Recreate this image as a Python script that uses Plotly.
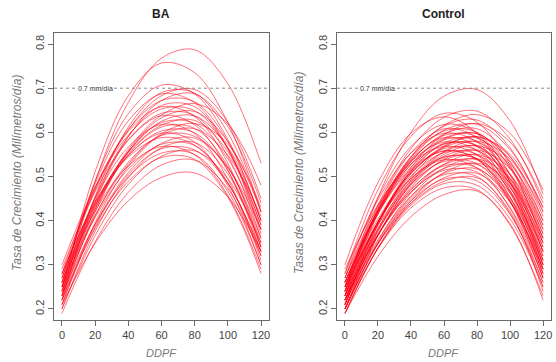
import plotly.graph_objects as go

DDPF = [0, 20, 40, 60, 80, 100, 120]

BA_CURVES = [
    [0.230, 0.489, 0.668, 0.768, 0.787, 0.710, 0.530],
    [0.240, 0.511, 0.683, 0.757, 0.735, 0.622, 0.420],
    [0.250, 0.490, 0.642, 0.707, 0.687, 0.584, 0.400],
    [0.220, 0.455, 0.612, 0.690, 0.689, 0.599, 0.420],
    [0.270, 0.469, 0.606, 0.683, 0.697, 0.623, 0.450],
    [0.260, 0.484, 0.626, 0.687, 0.667, 0.564, 0.380],
    [0.230, 0.443, 0.590, 0.672, 0.687, 0.613, 0.440],
    [0.280, 0.476, 0.606, 0.672, 0.669, 0.579, 0.400],
    [0.250, 0.432, 0.561, 0.639, 0.665, 0.619, 0.480],
    [0.240, 0.451, 0.591, 0.661, 0.658, 0.562, 0.370],
    [0.270, 0.473, 0.602, 0.658, 0.636, 0.530, 0.340],
    [0.220, 0.419, 0.556, 0.633, 0.647, 0.579, 0.420],
    [0.290, 0.466, 0.584, 0.643, 0.638, 0.546, 0.360],
    [0.260, 0.436, 0.557, 0.625, 0.637, 0.566, 0.400],
    [0.250, 0.453, 0.582, 0.638, 0.617, 0.514, 0.330],
    [0.230, 0.426, 0.556, 0.622, 0.620, 0.540, 0.380],
    [0.280, 0.442, 0.554, 0.616, 0.627, 0.556, 0.390],
    [0.240, 0.426, 0.550, 0.612, 0.609, 0.523, 0.350],
    [0.260, 0.448, 0.567, 0.618, 0.597, 0.494, 0.310],
    [0.270, 0.437, 0.547, 0.603, 0.599, 0.513, 0.340],
    [0.210, 0.395, 0.523, 0.594, 0.608, 0.548, 0.410],
    [0.250, 0.432, 0.548, 0.598, 0.578, 0.479, 0.300],
    [0.230, 0.411, 0.532, 0.593, 0.591, 0.521, 0.380],
    [0.280, 0.442, 0.544, 0.588, 0.571, 0.485, 0.330],
    [0.220, 0.391, 0.509, 0.575, 0.587, 0.519, 0.360],
    [0.240, 0.407, 0.517, 0.573, 0.570, 0.486, 0.320],
    [0.200, 0.376, 0.497, 0.565, 0.577, 0.506, 0.340],
    [0.260, 0.422, 0.524, 0.568, 0.549, 0.457, 0.290],
    [0.210, 0.386, 0.504, 0.563, 0.560, 0.484, 0.330],
    [0.230, 0.392, 0.499, 0.553, 0.550, 0.466, 0.300],
    [0.200, 0.366, 0.482, 0.546, 0.558, 0.495, 0.350],
    [0.220, 0.382, 0.489, 0.543, 0.539, 0.453, 0.280],
    [0.190, 0.352, 0.464, 0.526, 0.537, 0.472, 0.320],
    [0.210, 0.349, 0.445, 0.498, 0.508, 0.454, 0.330],
    [0.300, 0.476, 0.594, 0.653, 0.649, 0.563, 0.390],
    [0.250, 0.412, 0.528, 0.597, 0.620, 0.573, 0.430],
]

CONTROL_CURVES = [
    [0.240, 0.453, 0.600, 0.682, 0.697, 0.626, 0.460],
    [0.250, 0.435, 0.563, 0.634, 0.648, 0.585, 0.440],
    [0.280, 0.470, 0.591, 0.643, 0.623, 0.526, 0.350],
    [0.260, 0.426, 0.545, 0.616, 0.640, 0.598, 0.470],
    [0.300, 0.486, 0.598, 0.635, 0.598, 0.486, 0.300],
    [0.230, 0.415, 0.543, 0.614, 0.628, 0.565, 0.420],
    [0.270, 0.452, 0.568, 0.618, 0.599, 0.503, 0.330],
    [0.220, 0.395, 0.520, 0.595, 0.620, 0.578, 0.450],
    [0.250, 0.426, 0.544, 0.603, 0.600, 0.520, 0.360],
    [0.260, 0.422, 0.534, 0.596, 0.608, 0.545, 0.400],
    [0.210, 0.390, 0.515, 0.584, 0.597, 0.532, 0.380],
    [0.240, 0.416, 0.534, 0.593, 0.590, 0.506, 0.340],
    [0.280, 0.447, 0.553, 0.598, 0.578, 0.479, 0.300],
    [0.220, 0.382, 0.498, 0.567, 0.590, 0.550, 0.430],
    [0.250, 0.417, 0.527, 0.583, 0.580, 0.496, 0.330],
    [0.230, 0.396, 0.512, 0.576, 0.587, 0.522, 0.370],
    [0.200, 0.366, 0.485, 0.556, 0.580, 0.540, 0.420],
    [0.260, 0.417, 0.521, 0.574, 0.570, 0.486, 0.320],
    [0.240, 0.397, 0.506, 0.566, 0.578, 0.518, 0.380],
    [0.270, 0.432, 0.534, 0.578, 0.559, 0.463, 0.290],
    [0.210, 0.376, 0.492, 0.556, 0.568, 0.505, 0.360],
    [0.230, 0.397, 0.507, 0.563, 0.560, 0.476, 0.310],
    [0.250, 0.390, 0.490, 0.550, 0.570, 0.528, 0.400],
    [0.290, 0.436, 0.529, 0.568, 0.549, 0.453, 0.280],
    [0.200, 0.366, 0.482, 0.546, 0.558, 0.495, 0.350],
    [0.220, 0.369, 0.475, 0.539, 0.560, 0.518, 0.390],
    [0.240, 0.397, 0.501, 0.554, 0.550, 0.466, 0.300],
    [0.260, 0.416, 0.516, 0.558, 0.539, 0.443, 0.270],
    [0.210, 0.377, 0.487, 0.543, 0.541, 0.467, 0.320],
    [0.230, 0.378, 0.480, 0.537, 0.548, 0.485, 0.340],
    [0.200, 0.353, 0.463, 0.528, 0.550, 0.505, 0.370],
    [0.250, 0.397, 0.495, 0.544, 0.539, 0.453, 0.280],
    [0.220, 0.368, 0.470, 0.527, 0.538, 0.475, 0.330],
    [0.240, 0.396, 0.496, 0.538, 0.519, 0.427, 0.260],
    [0.200, 0.349, 0.455, 0.519, 0.540, 0.495, 0.360],
    [0.210, 0.367, 0.471, 0.524, 0.520, 0.444, 0.290],
    [0.230, 0.369, 0.465, 0.518, 0.527, 0.462, 0.310],
    [0.190, 0.339, 0.445, 0.509, 0.530, 0.485, 0.350],
    [0.220, 0.367, 0.465, 0.514, 0.510, 0.430, 0.270],
    [0.200, 0.348, 0.450, 0.507, 0.517, 0.452, 0.300],
    [0.210, 0.357, 0.455, 0.504, 0.500, 0.416, 0.250],
    [0.190, 0.338, 0.440, 0.497, 0.507, 0.442, 0.290],
    [0.200, 0.347, 0.445, 0.494, 0.490, 0.414, 0.260],
    [0.220, 0.349, 0.439, 0.489, 0.497, 0.420, 0.240],
    [0.190, 0.337, 0.435, 0.484, 0.480, 0.404, 0.250],
    [0.200, 0.337, 0.429, 0.474, 0.470, 0.390, 0.230],
    [0.190, 0.319, 0.409, 0.459, 0.467, 0.393, 0.220],
    [0.270, 0.422, 0.528, 0.587, 0.597, 0.535, 0.390],
    [0.230, 0.428, 0.554, 0.608, 0.588, 0.489, 0.310],
    [0.240, 0.422, 0.538, 0.588, 0.568, 0.469, 0.290],
    [0.210, 0.391, 0.512, 0.573, 0.570, 0.490, 0.330],
    [0.260, 0.404, 0.508, 0.569, 0.590, 0.545, 0.410],
    [0.220, 0.397, 0.510, 0.558, 0.539, 0.447, 0.280],
    [0.250, 0.421, 0.539, 0.605, 0.618, 0.561, 0.430],
    [0.230, 0.382, 0.483, 0.534, 0.529, 0.443, 0.270],
]

PANEL_TITLES = ["BA", "Control"]
Y_TITLES = ["Tasa de Crecimiento (Milímetros/día)", "Tasas de Crecimiento (Milímetros/día)"]
X_TITLE = "DDPF"
REF_VALUE = 0.7
REF_LABEL = "0.7 mm/día"
X_TICKS = [0, 20, 40, 60, 80, 100, 120]
Y_TICKS = [0.2, 0.3, 0.4, 0.5, 0.6, 0.7, 0.8]

W, H = 556, 362
FONT = "Liberation Sans, Arial, Helvetica, sans-serif"
LINE_COLOR = "rgba(255,0,20,0.7)"
AXIS_COLOR = "#6a6a6a"

fig = go.Figure()

panels = [
    (BA_CURVES, "x", "y", [54 / W, 269 / W]),
    (CONTROL_CURVES, "x2", "y2", [337 / W, 551 / W]),
]
ydom = [1 - 320 / H, 1 - 33 / H]
xrange_ = [-4.8, 124.8]
yrange_ = [0.175, 0.825]

for curves, xa, ya, dom in panels:
    for c in curves:
        fig.add_trace(go.Scatter(
            x=DDPF, y=c, xaxis=xa, yaxis=ya, mode="lines",
            line=dict(color=LINE_COLOR, width=0.8, shape="spline", smoothing=1.0),
            hoverinfo="skip", showlegend=False))
    fig.add_trace(go.Scatter(
        x=[xrange_[0], xrange_[1]], y=[REF_VALUE, REF_VALUE], xaxis=xa, yaxis=ya,
        mode="lines", line=dict(color="#888888", width=1, dash="dot"),
        hoverinfo="skip", showlegend=False))

axis_common = dict(
    showline=True, mirror=True, linecolor=AXIS_COLOR, linewidth=1,
    ticks="outside", ticklen=5, tickcolor=AXIS_COLOR, showgrid=False, zeroline=False,
    tickfont=dict(family=FONT, size=11, color="#444444"),
)

layout = dict(
    width=W, height=H, margin=dict(l=0, r=0, t=0, b=0),
    paper_bgcolor="white", plot_bgcolor="white", showlegend=False,
)
for i, (curves, xa, ya, dom) in enumerate(panels):
    xk = "xaxis" if i == 0 else "xaxis2"
    yk = "yaxis" if i == 0 else "yaxis2"
    layout[xk] = dict(domain=dom, range=xrange_, tickvals=X_TICKS, anchor=ya, **axis_common)
    layout[yk] = dict(domain=ydom, range=yrange_, tickvals=Y_TICKS, ticktext=[f"{v:.1f}" for v in Y_TICKS],
                      tickangle=-90, anchor=xa, **axis_common)

fig.update_layout(**layout)

ann = []
for i, (curves, xa, ya, dom) in enumerate(panels):
    cx = (dom[0] + dom[1]) / 2
    ann.append(dict(text=f"<b>{PANEL_TITLES[i]}</b>", x=cx, y=1 - 14 / H, xref="paper", yref="paper",
                    showarrow=False, font=dict(family=FONT, size=12, color="#222222"),
                    xanchor="center", yanchor="middle"))
    ann.append(dict(text=f"<i>{X_TITLE}</i>", x=cx, y=1 - 353 / H, xref="paper", yref="paper",
                    showarrow=False, font=dict(family=FONT, size=11, color="#777777"),
                    xanchor="center", yanchor="middle"))
    ytx = (17 if i == 0 else 299) / W
    ann.append(dict(text=f"<i>{Y_TITLES[i]}</i>", x=ytx, y=(ydom[0] + ydom[1]) / 2 + 0.01, xref="paper", yref="paper",
                    showarrow=False, textangle=-90, font=dict(family=FONT, size=12, color="#777777"),
                    xanchor="center", yanchor="middle"))
    ann.append(dict(text=REF_LABEL, x=20, y=REF_VALUE, xref=xa, yref=ya, showarrow=False,
                    font=dict(family=FONT, size=7, color="#333333"), bgcolor="white",
                    xanchor="center", yanchor="middle", borderpad=0))
fig.update_layout(annotations=ann)

fig.write_html("out.html", config={"displayModeBar": False},
               post_script="document.body.style.margin='0';document.body.style.overflow='hidden';")
